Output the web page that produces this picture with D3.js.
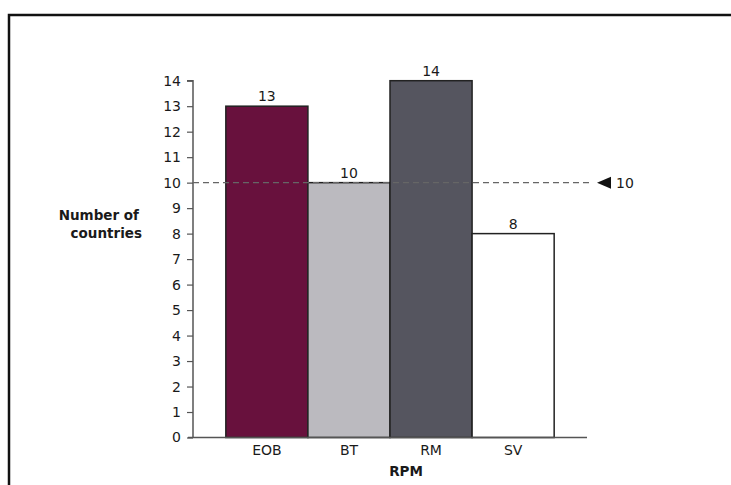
<!DOCTYPE html>
<html>
<head>
<meta charset="utf-8">
<script src="https://cdn.jsdelivr.net/npm/d3@7/dist/d3.min.js"></script>
<style>
  html, body { margin: 0; padding: 0; background: #fff; }
  svg { display: block; }
  text { font-family: "DejaVu Sans", "Open Sans", sans-serif; fill: #1a1a1a; }
</style>
</head>
<body>
<script>
// Countries per RPM category
const categories = ["EOB", "BT", "RM", "SV"];
const counts = [13, 10, 14, 8];
const barColors = ["#68113d", "#bbbabf", "#55555f", "#ffffff"];
const yTicks = [0, 1, 2, 3, 4, 5, 6, 7, 8, 9, 10, 11, 12, 13, 14];
const referenceValue = 10;

const W = 731, H = 485;
const svg = d3.select("body").append("svg").attr("width", W).attr("height", H);

// outer frame (open to the right and bottom)
svg.append("path")
  .attr("d", `M9,${H + 5} L9,15 L${W + 5},15`)
  .attr("fill", "none").attr("stroke", "#111").attr("stroke-width", 2.5);

const plotLeft = 193, plotRight = 587, plotTop = 80.7, plotBottom = 437.5;

const x = d3.scaleBand().domain(categories).range([plotLeft, plotRight])
  .paddingInner(0).paddingOuter(0.4);
const y = d3.scaleLinear().domain([0, 14]).range([plotBottom, plotTop]);

// y axis
const yAxis = svg.append("g").attr("transform", `translate(${plotLeft},0)`)
  .call(d3.axisLeft(y).tickValues(yTicks).tickSize(6).tickPadding(6));
yAxis.select(".domain").attr("stroke", "#555").attr("stroke-width", 1.5).attr("d", `M-6,${plotTop}H0V${plotBottom}`);
yAxis.selectAll(".tick line").attr("stroke", "#555").attr("stroke-width", 1.2);
yAxis.selectAll(".tick text").attr("font-size", 14).style("font-family", "DejaVu Sans, sans-serif").attr("fill", "#1a1a1a");

// bars
svg.selectAll("rect.bar").data(categories).enter().append("rect")
  .attr("class", "bar")
  .attr("x", d => x(d))
  .attr("y", (d, i) => y(counts[i]))
  .attr("width", x.bandwidth())
  .attr("height", (d, i) => y(0) - y(counts[i]))
  .attr("fill", (d, i) => barColors[i])
  .attr("stroke", "#222").attr("stroke-width", 1.5);

// value labels
svg.selectAll("text.val").data(categories).enter().append("text")
  .attr("class", "val")
  .attr("x", d => x(d) + x.bandwidth() / 2)
  .attr("y", (d, i) => y(counts[i]) - 5)
  .attr("text-anchor", "middle").attr("font-size", 14)
  .text((d, i) => counts[i]);

// x axis
const xAxis = svg.append("g").attr("transform", `translate(0,${plotBottom})`)
  .call(d3.axisBottom(x).tickSize(0).tickPadding(8));
xAxis.select(".domain").attr("stroke", "#555").attr("stroke-width", 1.5).attr("d", `M${plotLeft - 5},0H${plotRight}`);
xAxis.selectAll(".tick text").attr("font-size", 14).style("font-family", "DejaVu Sans, sans-serif").attr("fill", "#1a1a1a");

// reference line
const ry = y(referenceValue);
svg.append("line")
  .attr("x1", plotLeft).attr("x2", 592)
  .attr("y1", ry).attr("y2", ry)
  .attr("stroke", "#666").attr("stroke-width", 1.3).attr("stroke-dasharray", "6,4");
svg.append("path")
  .attr("d", `M597,${ry} L611,${ry - 6} L611,${ry + 6} Z`)
  .attr("fill", "#111");
svg.append("text").attr("x", 616).attr("y", ry + 5)
  .attr("font-size", 14).text(referenceValue);

// axis titles
const yt = svg.append("text").attr("text-anchor", "end")
  .attr("font-size", 13.5).attr("font-weight", "bold");
yt.append("tspan").attr("x", 139).attr("y", 220).text("Number of");
yt.append("tspan").attr("x", 142).attr("y", 238).text("countries");

svg.append("text").attr("x", 406).attr("y", 476)
  .attr("text-anchor", "middle").attr("font-size", 13.5).attr("font-weight", "bold")
  .text("RPM");
</script>
</body>
</html>
